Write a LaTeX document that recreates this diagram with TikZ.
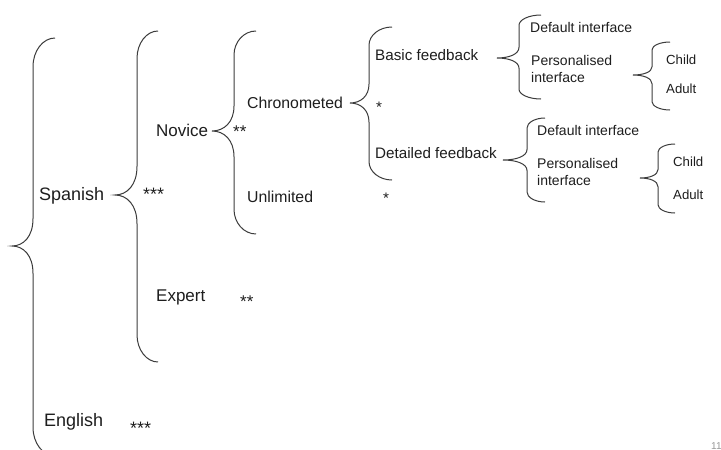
\documentclass[tikz,border=0pt]{standalone}
\usepackage{fontspec}
\setmainfont{Liberation Sans}
\definecolor{inkline}{HTML}{3C3C3C}
\definecolor{inktext}{HTML}{1E1E1E}

% Curly brace opening to the right.
% #1 name, #2 x of the arm ends, #3 x of the spine, #4 x of the tip,
% #5 y of the top end, #6 y of the tip, #7 y of the bottom end
\newcommand{\cbrace}[7]{%
  \pgfmathsetmacro\cbTop{min(1.3*(#2-#3),0.24*(#6-#5))}%
  \pgfmathsetmacro\cbBot{min(1.3*(#2-#3),0.24*(#7-#6))}%
  \pgfmathsetmacro\cbTipA{min(1.3*(#3-#4),0.25*(#6-#5))}%
  \pgfmathsetmacro\cbTipB{min(1.3*(#3-#4),0.25*(#7-#6))}%
  \coordinate (#1-top) at (#2,#5);
  \coordinate (#1-tip) at (#4,#6);
  \coordinate (#1-bot) at (#2,#7);
  \draw[bracestyle] (#1-top)
    .. controls ({#3+0.45*(#2-#3)},#5) and (#3,{#5+0.45*\cbTop}) .. (#3,{#5+\cbTop})
    -- (#3,{#6-\cbTipA})
    .. controls (#3,{#6-0.35*\cbTipA}) and ({#3-0.45*(#3-#4)},#6) .. (#1-tip)
    .. controls ({#3-0.45*(#3-#4)},#6) and (#3,{#6+0.35*\cbTipB}) .. (#3,{#6+\cbTipB})
    -- (#3,{#7-\cbBot})
    .. controls (#3,{#7-0.45*\cbBot}) and ({#3+0.45*(#2-#3)},#7) .. (#1-bot);
}

\tikzset{
  bracestyle/.style={draw=inkline, line width=1pt},
  lbl/.style={anchor=base west, inner sep=0pt, text=inktext},
  lvlA/.style={lbl, font=\fontsize{18}{20}\selectfont},
  lvlB/.style={lbl, font=\fontsize{17}{20}\selectfont},
  lvlC/.style={lbl, font=\fontsize{15.8}{18}\selectfont},
  lvlD/.style={lbl, font=\fontsize{15.2}{18}\selectfont},
  lvlE/.style={lbl, font=\fontsize{14}{17}\selectfont, align=left},
  lvlF/.style={lbl, font=\fontsize{13.2}{16}\selectfont},
}

\begin{document}
\begin{tikzpicture}[x=1pt, y=-1pt]
\useasboundingbox (0,0) rectangle (721,450);
\fill[white] (0,0) rectangle (721,450);

% braces
\cbrace{lang}{55}{33}{12}{38}{246}{456}
\cbrace{level}{158}{137}{115}{31}{195}{362}
\cbrace{time}{256}{234}{212}{31}{131}{234}
\cbrace{fb}{392}{369}{350}{27}{103}{180}
\cbrace{basic}{541}{519}{497}{15}{58}{99}
\cbrace{detail}{545}{527}{503}{118}{160}{202}
\cbrace{ageA}{670}{652}{633}{42}{75}{110}
\cbrace{ageB}{675}{658}{640}{144}{178}{213}

% first level
\node[lvlA] (spanish) at (39,200) {Spanish};
\node[lvlA] (spanishstar) at (143,200) {***};
\node[lvlA] (english) at (44,426) {English};
\node[lvlA] (englishstar) at (130,434) {***};

% second level
\node[lvlB] (novice) at (156,136) {Novice};
\node[lvlB] (novicestar) at (233,137) {**};
\node[lvlB] (expert) at (156,301) {Expert};
\node[lvlB] (expertstar) at (240,307) {**};

% third level
\node[lvlC] (chrono) at (247,108) {Chronometed};
\node[lvlC] (unlim) at (247,202) {Unlimited};

% fourth level
\node[lvlD] (basic) at (375,60) {Basic feedback};
\node[lvlD] (basicstar) at (376,112) {*};
\node[lvlD] (detail) at (375,158) {Detailed feedback};
\node[lvlD] (detailstar) at (383,203) {*};

% interfaces (two-line labels sit on the baseline of their last line)
\node[lvlE] (defA) at (530,32) {Default interface};
\node[lvlE] (persA) at (531,82) {Personalised\\interface};
\node[lvlE] (defB) at (537,135) {Default interface};
\node[lvlE] (persB) at (537,185) {Personalised\\interface};

% user groups
\node[lvlF] (childA) at (666,64) {Child};
\node[lvlF] (adultA) at (666,93) {Adult};
\node[lvlF] (childB) at (673,166) {Child};
\node[lvlF] (adultB) at (673,199) {Adult};

% page number, running off the right edge
\node[anchor=base west, inner sep=0pt, text=gray!80, font=\fontsize{10}{12}\selectfont] (pagenum) at (711,449) {11};
\end{tikzpicture}
\end{document}
